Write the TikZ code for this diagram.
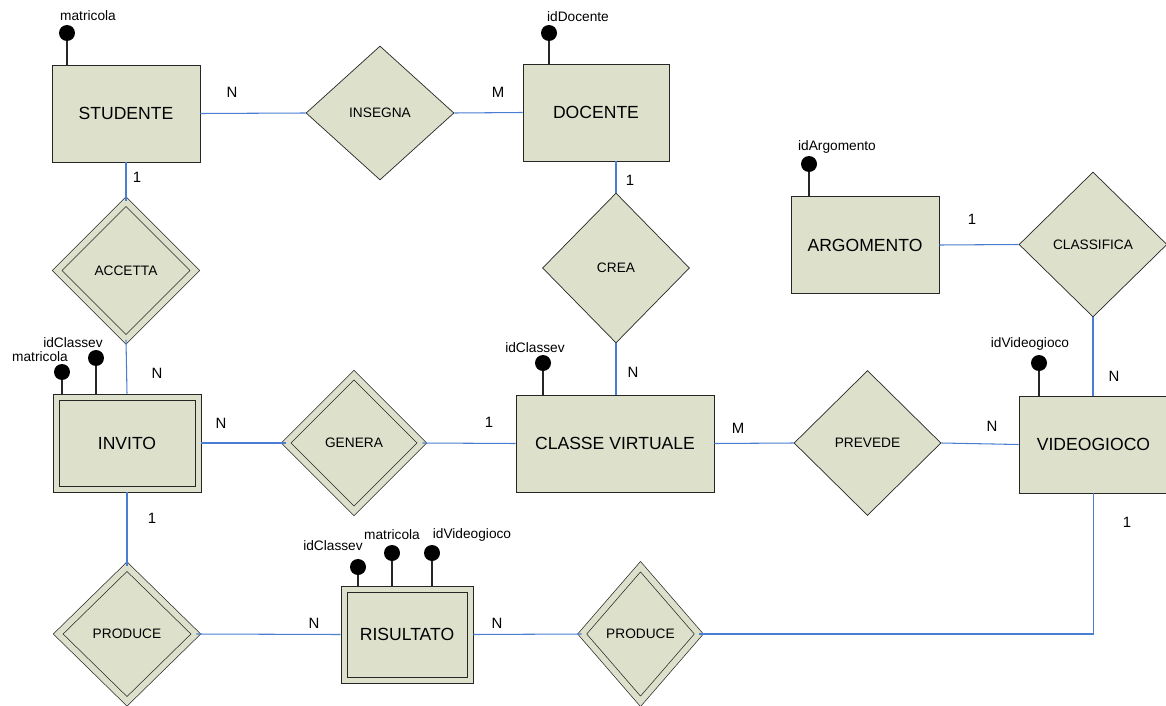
\documentclass[tikz,border=0pt]{standalone}
\usepackage{fontspec}
\setmainfont{Liberation Sans}
\usetikzlibrary{shapes.geometric}
\definecolor{erFill}{RGB}{221, 225, 204}
\definecolor{erBlue}{RGB}{74, 126, 210}

\tikzset{
  entity/.style={draw=black!85, fill=erFill, minimum width=2.96cm, minimum height=1.94cm, inner sep=0pt, font=\fontsize{10}{12}\selectfont},
  weakentity/.style={entity, path picture={
      \draw[black!85] ([shift={(3.4pt,-3.4pt)}]path picture bounding box.north west)
        rectangle ([shift={(-3.4pt,3.4pt)}]path picture bounding box.south east);}},
  relation/.style={diamond, draw=black!85, fill=erFill, minimum width=2.96cm, minimum height=2.9cm, inner sep=0pt, font=\fontsize{7.8}{9}\selectfont},
  weakrelation/.style={relation, double=erFill, double distance=0.12cm},
  attr/.style={circle, fill=black, inner sep=0pt, minimum size=0.32cm},
  attrlabel/.style={font=\fontsize{7.8}{9}\selectfont, inner sep=0pt},
  card/.style={font=\fontsize{8.5}{10}\selectfont, inner sep=0pt},
  link/.style={draw=erBlue, line width=0.6pt},
  attrline/.style={draw=black!85, line width=0.8pt}
}

\begin{document}
\begin{tikzpicture}[x=0.02cm, y=-0.02cm]
  \useasboundingbox (0,0) rectangle (1166,706);

  % entita'
  \node[entity] (studente) at (126,113.5) {STUDENTE};
  \node[entity, minimum width=2.92cm] (docente) at (596,112.5) {DOCENTE};
  \node[entity] (argomento) at (865,245) {ARGOMENTO};
  \node[weakentity, minimum height=1.96cm] (invito) at (127,443) {INVITO};
  \node[entity, minimum width=3.96cm] (classe) at (615,443.5) {CLASSE VIRTUALE};
  \node[entity, minimum width=2.98cm] (videogioco) at (1093.5,444.5) {VIDEOGIOCO};
  \node[weakentity, minimum width=2.64cm] (risultato) at (407,634.5) {RISULTATO};

  % relazioni
  \node[relation, minimum height=2.68cm] (insegna) at (380,113) {INSEGNA};
  \node[weakrelation, minimum width=2.76cm, minimum height=2.76cm] (accetta) at (126,270.5) {ACCETTA};
  \node[relation, minimum width=2.94cm, minimum height=3cm] (crea) at (616,268) {CREA};
  \node[relation] (classifica) at (1093,244.5) {CLASSIFICA};
  \node[weakrelation, minimum width=2.72cm, minimum height=2.72cm] (genera) at (354,443) {GENERA};
  \node[relation, minimum width=2.94cm] (prevede) at (867.5,443) {PREVEDE};
  \node[weakrelation, minimum width=2.76cm, minimum height=2.7cm] (produceL) at (127,634) {PRODUCE};
  \node[weakrelation, minimum width=2.34cm, minimum height=2.7cm] (produceR) at (640.5,634) {PRODUCE};

  % attributi
  \node[attr] (aStudMat) at (67,33) {};
  \node[attrlabel] (lStudMat) at (88,16) {matricola};
  \node[attr] (aDocId) at (549,33) {};
  \node[attrlabel] (lDocId) at (578,17) {idDocente};
  \node[attr] (aArgId) at (809,164) {};
  \node[attrlabel] (lArgId) at (837,147) {idArgomento};
  \node[attr] (aInvMat) at (62,372) {};
  \node[attrlabel] (lInvMat) at (40,357) {matricola};
  \node[attr] (aInvCla) at (96,358) {};
  \node[attrlabel] (lInvCla) at (73,343) {idClassev};
  \node[attr] (aClaId) at (543,363) {};
  \node[attrlabel] (lClaId) at (535,348) {idClassev};
  \node[attr] (aVidId) at (1039,363) {};
  \node[attrlabel] (lVidId) at (1030,344) {idVideogioco};
  \node[attr] (aRisCla) at (358,567) {};
  \node[attrlabel] (lRisCla) at (333,546) {idClassev};
  \node[attr] (aRisMat) at (392,553) {};
  \node[attrlabel] (lRisMat) at (392,535) {matricola};
  \node[attr] (aRisVid) at (432,553) {};
  \node[attrlabel] (lRisVid) at (472,535) {idVideogioco};

  \foreach \a/\e in {aStudMat/studente, aDocId/docente, aArgId/argomento, aInvMat/invito, aInvCla/invito, aClaId/classe, aVidId/videogioco, aRisCla/risultato, aRisMat/risultato, aRisVid/risultato}
    \draw[attrline] (\a) -- (\a |- \e.north);

  % collegamenti
  \draw[link] (studente.east) -- (insegna.west);
  \draw[link] (insegna.east) -- (docente.west);
  \draw[link] (studente.south) -- (accetta.north);
  \draw[link] (accetta.south) -- (invito.north);
  \draw[link] (crea.north) -- (crea.north |- docente.south);
  \draw[link] (crea.south) -- (crea.south |- classe.north);
  \draw[link] (invito.east) -- (genera.west);
  \draw[link] (genera.east) -- (classe.west);
  \draw[link] (classe.east) -- (prevede.west);
  \draw[link] (prevede.east) -- (videogioco.west);
  \draw[link] (argomento.east) -- (classifica.west);
  \draw[link] (classifica.south) -- (classifica.south |- videogioco.north);
  \draw[link] (invito.south) -- (produceL.north);
  \draw[link] (produceL.east) -- (risultato.west);
  \draw[link] (risultato.east) -- (produceR.west);
  \draw[link] (produceR.east) -| (videogioco.south);

  % cardinalita'
  \node[card] (cStudIns) at (232,92) {N};
  \node[card] (cDocIns) at (498,92) {M};
  \node[card] (cStudAcc) at (137,177) {1};
  \node[card] (cInvAcc) at (157,373) {N};
  \node[card] (cDocCrea) at (630,180) {1};
  \node[card] (cClaCrea) at (633,372) {N};
  \node[card] (cInvGen) at (221,423) {N};
  \node[card] (cClaGen) at (489,422) {1};
  \node[card] (cClaPrev) at (738,428) {M};
  \node[card] (cVidPrev) at (992,426) {N};
  \node[card] (cArgCla) at (972,219) {1};
  \node[card] (cVidCla) at (1114,376) {N};
  \node[card] (cInvProd) at (152,518) {1};
  \node[card] (cRisProdL) at (314,623) {N};
  \node[card] (cRisProdR) at (497,623) {N};
  \node[card] (cVidProd) at (1127,522) {1};
\end{tikzpicture}
\end{document}
